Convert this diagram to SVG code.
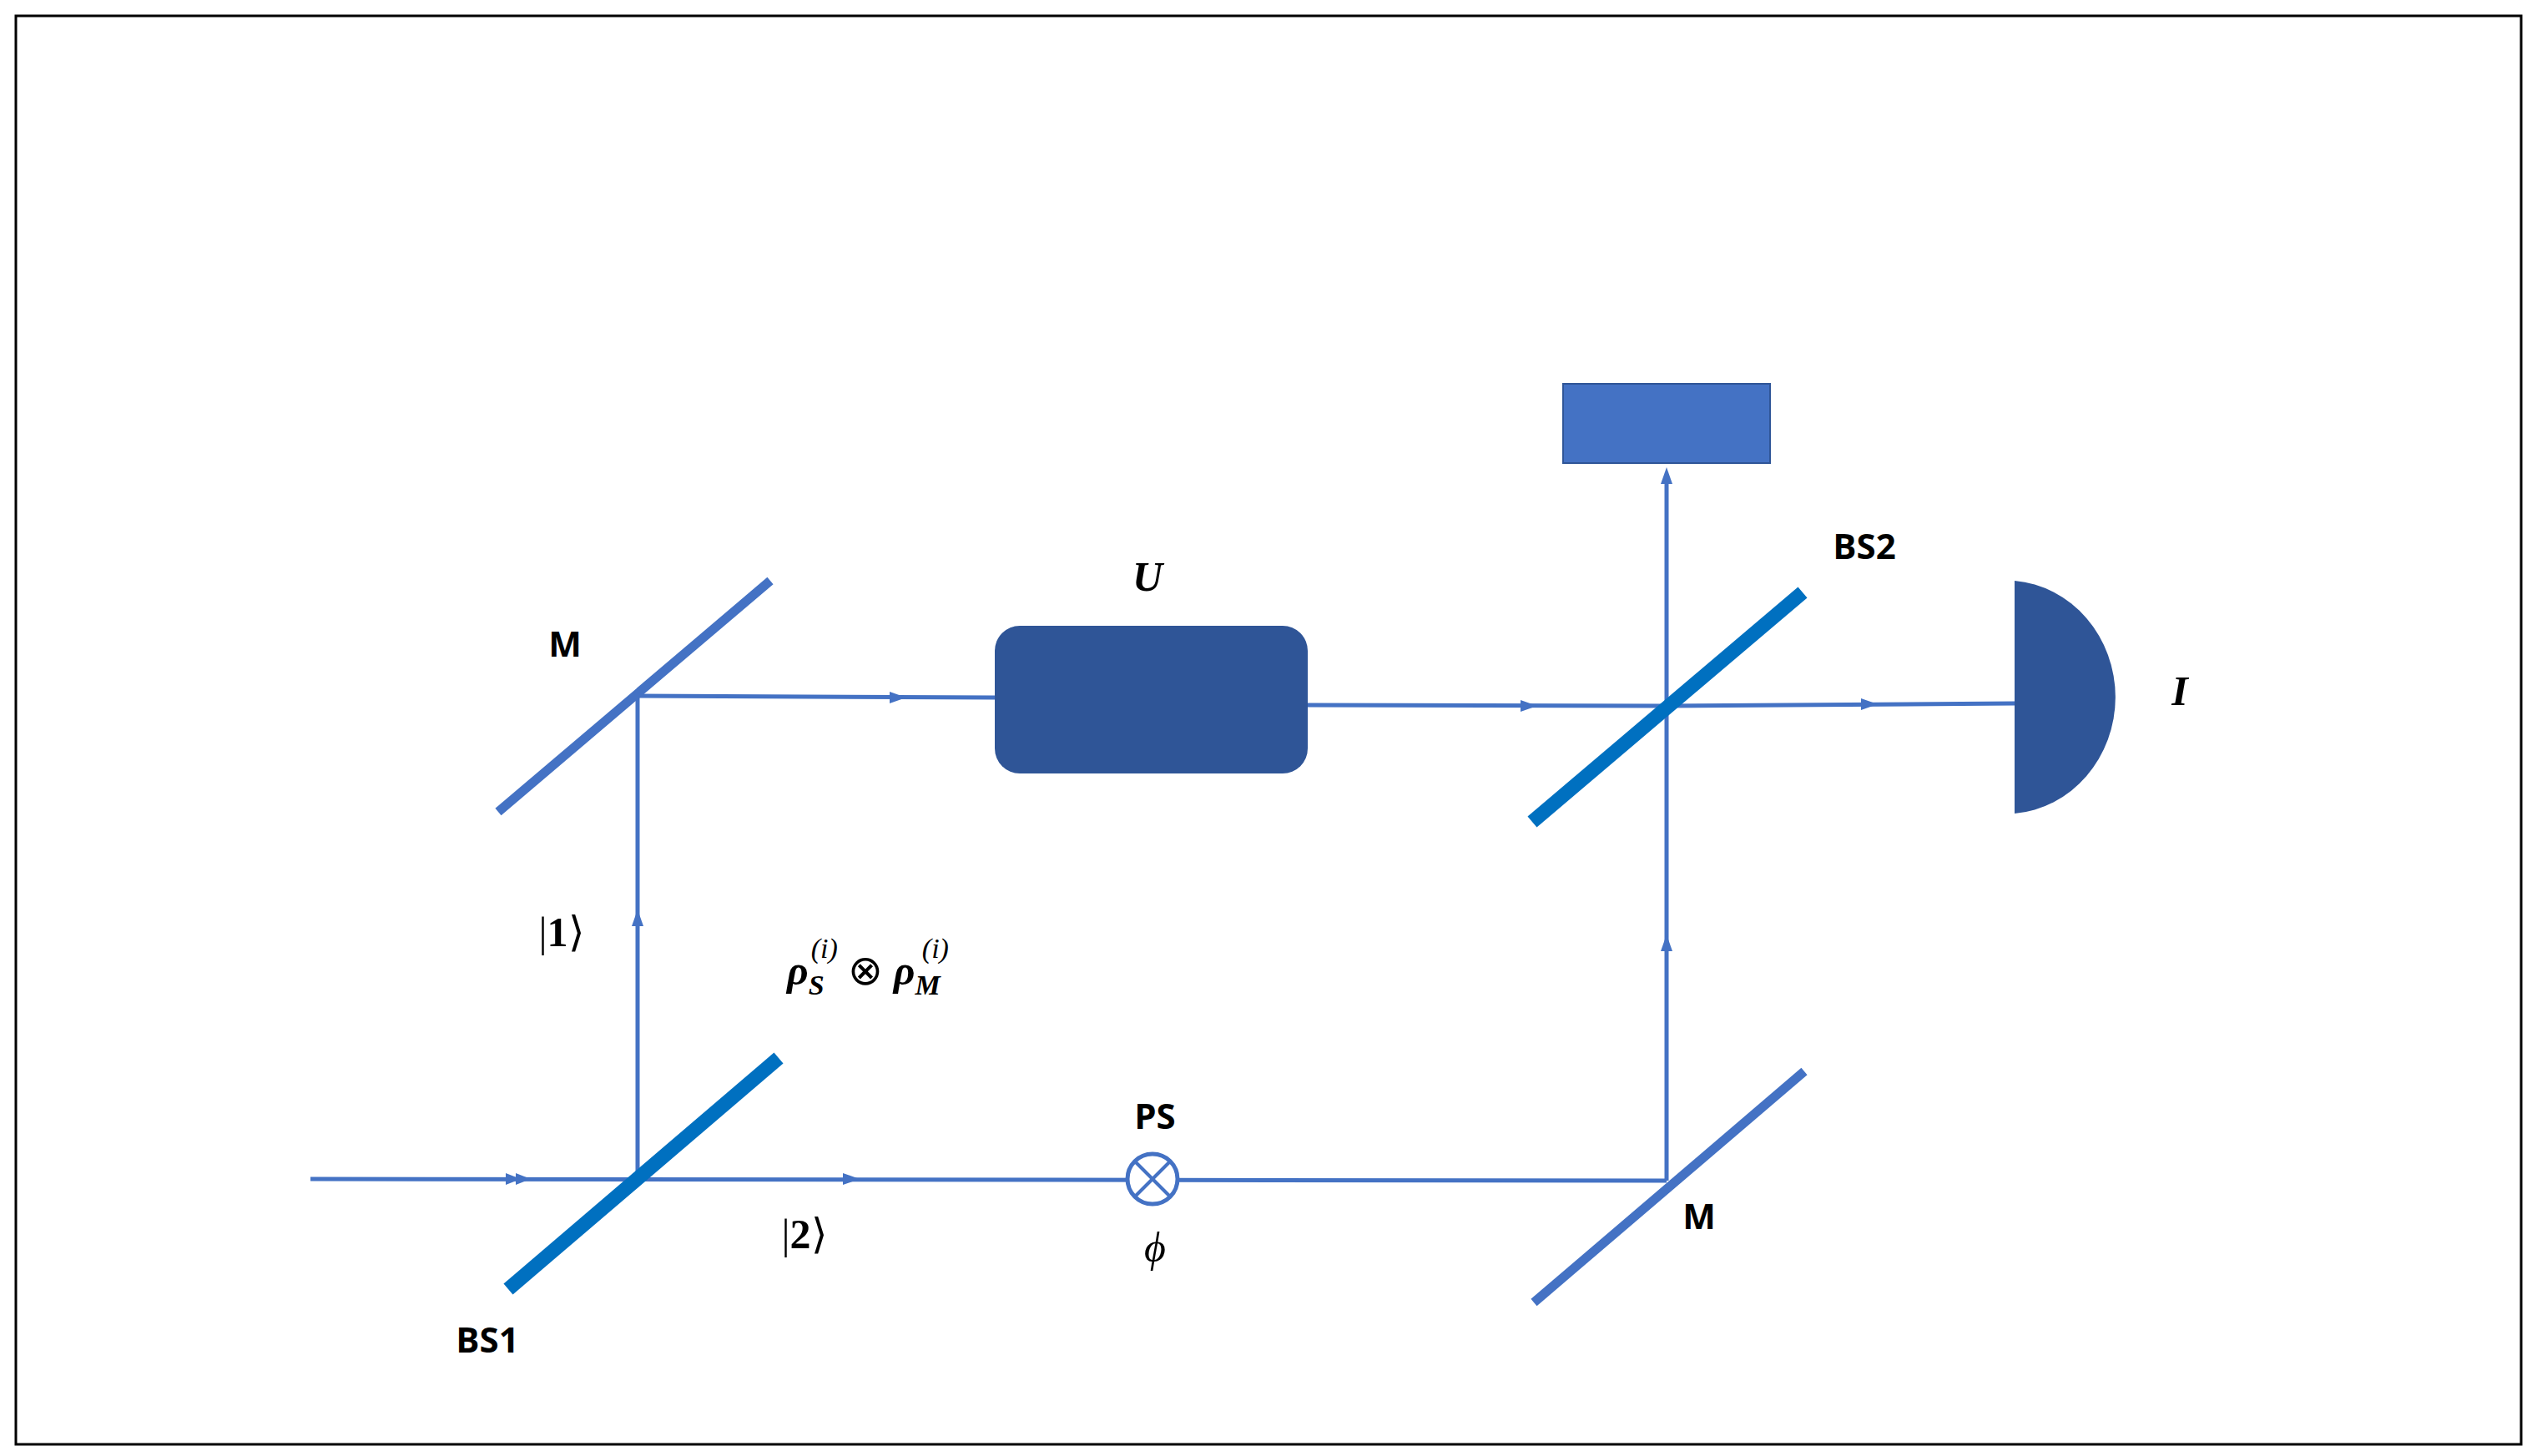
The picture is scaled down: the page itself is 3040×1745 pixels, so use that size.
<svg xmlns="http://www.w3.org/2000/svg" width="3040" height="1745" viewBox="0 0 3040 1745">
<style>
.beam{stroke:#4472C4;stroke-width:5;fill:none}
.mir{stroke:#4472C4;stroke-width:11;stroke-linecap:butt}
.bs{stroke:#0070C0;stroke-width:17;stroke-linecap:butt}
.lbl{font-family:"Open Sans","Liberation Sans",sans-serif;font-weight:bold;font-size:42px;fill:#000;text-anchor:middle}
.math{font-family:"Liberation Serif",serif;font-size:50px;fill:#000;text-anchor:middle}
.arr{fill:#4472C4}
</style>
<rect x="19" y="19" width="3002" height="1712" fill="#fff" stroke="#000" stroke-width="3"/>
<g id="connectors">
<line class="beam" x1="372" y1="1413" x2="1997" y2="1415"/>
<line class="beam" x1="764" y1="1413" x2="764" y2="834"/>
<line class="beam" x1="764" y1="834" x2="1192" y2="836"/>
<line class="beam" x1="1567" y1="845" x2="1997" y2="846"/>
<line class="beam" x1="1997" y1="846" x2="2414" y2="843"/>
<line class="beam" x1="1997" y1="1415" x2="1997" y2="846"/>
<line class="beam" x1="1997" y1="846" x2="1997" y2="575"/>
<polygon class="arr" points="1997,560 1990,580 2004,580"/>
<polygon class="arr" points="764,1090 757,1110 771,1110"/>
<polygon class="arr" points="1997,1120 1990,1140 2004,1140"/>
<polygon class="arr" points="1086,836 1066,829 1066,843"/>
<polygon class="arr" points="1842,846 1822,839 1822,853"/>
<polygon class="arr" points="2250,844 2230,837 2230,851"/>
<polygon class="arr" points="1030,1413 1010,1406 1010,1420"/>
<polygon class="arr" points="624,1413 606,1406 606,1420"/>
<polygon class="arr" points="636,1413 618,1406 618,1420"/>
</g>
<g id="mirror-top"><line class="mir" x1="597" y1="973" x2="923" y2="696"/><text class="lbl" x="677" y="787">M</text></g>
<g id="bs1"><line class="bs" x1="609" y1="1545" x2="933" y2="1268"/><text class="lbl" x="584" y="1621">BS1</text></g>
<g id="mirror-bottom"><line class="mir" x1="1838" y1="1561" x2="2162" y2="1284"/><text class="lbl" x="2036" y="1473">M</text></g>
<g id="bs2"><line class="bs" x1="1836" y1="985" x2="2160" y2="710"/><text class="lbl" x="2234" y="670">BS2</text></g>
<g id="U"><rect x="1192" y="750" width="375" height="177" rx="30" fill="#2F5597"/><text class="math" x="1375" y="708" font-style="italic" font-weight="bold">U</text></g>
<g id="screen"><rect x="1873" y="460" width="248" height="95" fill="#4472C4" stroke="#2F5597" stroke-width="2"/></g>
<g id="detector"><path d="M2414,696 A132,140 0 0 1 2414,975 Z" fill="#2F5597"/><text class="math" x="2612" y="845" font-style="italic" font-weight="bold">I</text></g>
<g id="PS"><circle cx="1381" cy="1413" r="30" fill="#fff" stroke="#4472C4" stroke-width="5"/>
<line x1="1360" y1="1392" x2="1402" y2="1434" stroke="#4472C4" stroke-width="4"/>
<line x1="1402" y1="1392" x2="1360" y2="1434" stroke="#4472C4" stroke-width="4"/>
<text class="lbl" x="1384" y="1353">PS</text><text class="math" x="1384" y="1512" font-style="italic">ϕ</text></g>
<g id="labels">
<text class="math" x="673" y="1134">|<tspan font-weight="bold">1</tspan>⟩</text>
<text class="math" x="964" y="1496">|<tspan font-weight="bold">2</tspan>⟩</text>
<text class="math" x="1040" y="1180" font-style="italic" font-weight="bold" font-size="54">ρ<tspan font-size="34" dy="12">S</tspan><tspan font-size="34" font-weight="normal" dx="-16" dy="-44">(i)</tspan><tspan dy="32" font-weight="normal" font-style="normal"> ⊗ </tspan>ρ<tspan font-size="34" dy="12">M</tspan><tspan font-size="34" font-weight="normal" dx="-22" dy="-44">(i)</tspan></text>
</g>
</svg>
